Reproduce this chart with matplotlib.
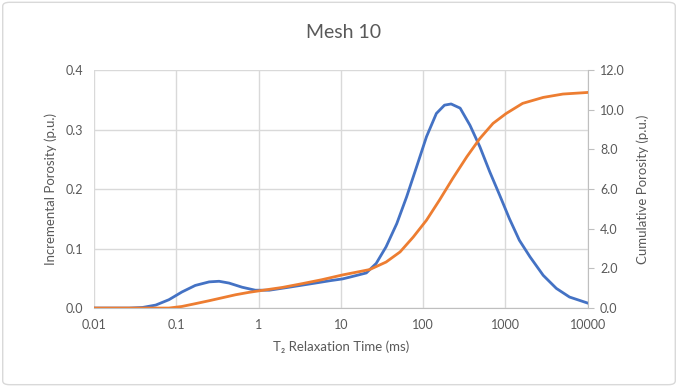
import matplotlib
matplotlib.use('Agg')
import matplotlib.pyplot as plt
from matplotlib.patches import FancyBboxPatch

plt.rcParams['font.family'] = ['Lato', 'DejaVu Sans']

# T2 relaxation time (ms) and incremental porosity (p.u.)
t2_incr = [0.01, 0.0269, 0.0389, 0.0562, 0.0813, 0.117, 0.170, 0.251, 0.331,
           0.437, 0.631, 0.912, 1.35, 2.34, 4.90, 7.41, 10.5, 12.9, 20.4, 26.9,
           35.5, 47.9, 63.1, 83.2, 110, 145, 182, 219, 282, 372, 490, 646, 851,
           1122, 1479, 1995, 2884, 4169, 6026, 10000]
incremental = [0.0, 0.0, 0.001, 0.005, 0.014, 0.027, 0.038, 0.044, 0.045,
               0.042, 0.035, 0.030, 0.030, 0.035, 0.042, 0.046, 0.049, 0.052,
               0.059, 0.075, 0.103, 0.142, 0.187, 0.237, 0.288, 0.327, 0.341,
               0.343, 0.336, 0.307, 0.271, 0.229, 0.190, 0.150, 0.114, 0.086,
               0.055, 0.033, 0.0185, 0.0084]

# T2 relaxation time (ms) and cumulative porosity (p.u.)
t2_cum = [0.01, 0.0813, 0.117, 0.170, 0.251, 0.363, 0.525, 0.759, 1.10, 1.95,
          3.39, 5.89, 10.5, 22.4, 35.5, 52.5, 75.9, 110, 158, 229, 339, 490,
          708, 1023, 1622, 2884, 5012, 10000]
cumulative = [0.0, 0.0, 0.08, 0.22, 0.37, 0.52, 0.67, 0.79, 0.89, 1.04, 1.23,
              1.43, 1.67, 1.94, 2.32, 2.83, 3.58, 4.43, 5.44, 6.53, 7.62, 8.55,
              9.31, 9.81, 10.32, 10.62, 10.79, 10.87]

x_ticks = [0.01, 0.1, 1, 10, 100, 1000, 10000]
x_labels = ['0.01', '0.1', '1', '10', '100', '1000', '10000']
left_ticks = [0, 0.1, 0.2, 0.3, 0.4]
left_labels = ['0.0', '0.1', '0.2', '0.3', '0.4']
right_ticks = [0, 2, 4, 6, 8, 10, 12]
right_labels = ['0.0', '2.0', '4.0', '6.0', '8.0', '10.0', '12.0']

grey = '#595959'
blue = '#4472C4'
orange = '#ED7D31'
grid = '#D9D9D9'

fig = plt.figure(figsize=(6.78, 3.87), dpi=100)
fig.patches.append(FancyBboxPatch((0.004, 0.006), 0.992, 0.988,
                                  boxstyle='round,pad=0,rounding_size=0.01',
                                  transform=fig.transFigure, fill=False,
                                  edgecolor='#D9D9D9', linewidth=1))

ax = fig.add_axes([0.1387, 0.204, 0.728, 0.615])
ax2 = ax.twinx()

ax.plot(t2_incr, incremental, color=blue, linewidth=2.0, zorder=3,
        solid_joinstyle='round')
ax2.plot(t2_cum, cumulative, color=orange, linewidth=2.0, zorder=3,
         solid_joinstyle='round')

ax.set_xscale('log')
ax.set_xlim(0.01, 10000)
ax.set_ylim(0, 0.4)
ax2.set_ylim(0, 12)
ax.set_xticks(x_ticks)
ax.set_xticklabels(x_labels)
ax.xaxis.set_minor_locator(matplotlib.ticker.NullLocator())
ax.set_yticks(left_ticks)
ax.set_yticklabels(left_labels)
ax2.set_yticks(right_ticks)
ax2.set_yticklabels(right_labels)

ax.grid(True, color=grid, linewidth=1)
ax.set_axisbelow(True)
for a in (ax, ax2):
    for s in a.spines.values():
        s.set_visible(False)
ax.spines['bottom'].set_visible(True)
ax.spines['bottom'].set_color('#BFBFBF')
ax2.spines['right'].set_visible(True)
ax2.spines['right'].set_color('#BFBFBF')

ax.tick_params(axis='x', length=0, pad=8, labelsize=9, labelcolor=grey)
ax.tick_params(axis='y', length=0, pad=8, labelsize=9, labelcolor=grey)
ax2.tick_params(axis='y', length=4, color='#BFBFBF', pad=5, labelsize=9,
                labelcolor=grey)

ax.set_xlabel('T₂ Relaxation Time (ms)', fontsize=9.5, color=grey, labelpad=7)
ax.set_ylabel('Incremental Porosity (p.u.)', fontsize=9.5, color=grey, labelpad=6)
ax2.set_ylabel('Cumulative Porosity (p.u.)', fontsize=9.5, color=grey, labelpad=8)
fig.text(0.507, 0.915, 'Mesh 10', ha='center', va='center', fontsize=14, color=grey)

fig.savefig('out.png', dpi=100)
